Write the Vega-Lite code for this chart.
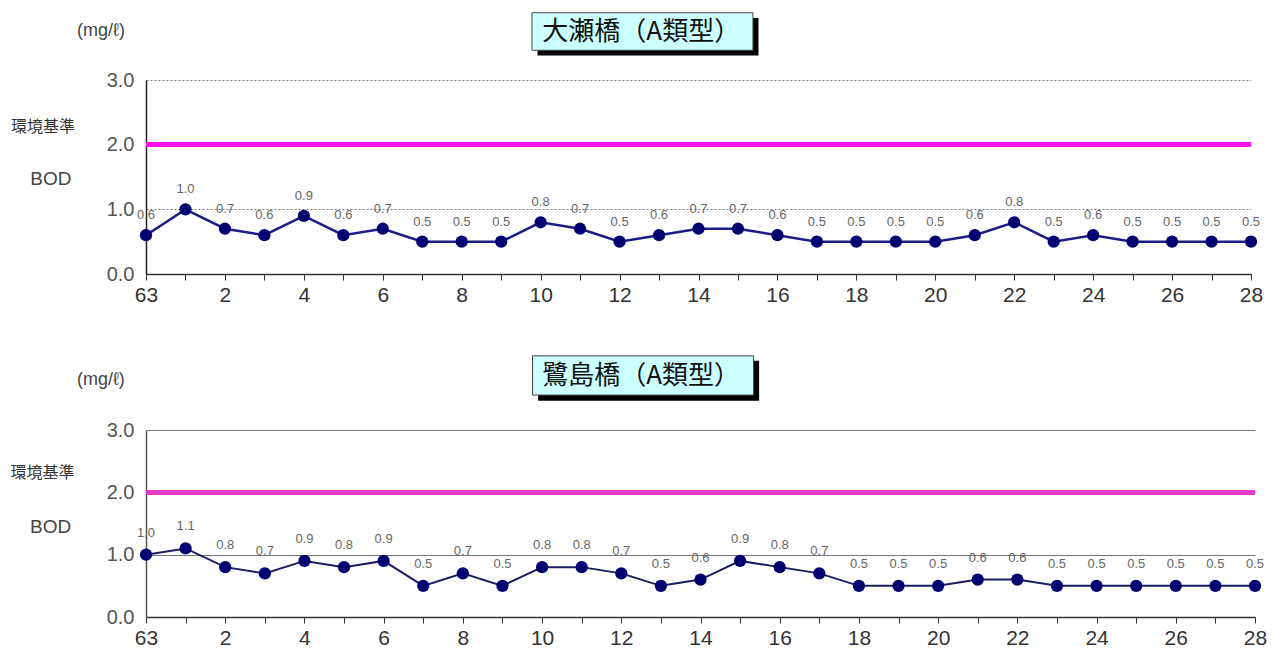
{
  "$schema": "https://vega.github.io/schema/vega-lite/v6.json",
  "padding": {"left": 10, "top": 12, "right": 10, "bottom": 3},
  "background": "white",
  "spacing": 50,
  "config": {
    "view": {"stroke": null},
    "axis": {"labelFont": "Liberation Sans", "titleFont": "Liberation Sans"}
  },
  "datasets": {
    "oose": [
      {"yr": 1988, "bod": 0.6}, {"yr": 1989, "bod": 1.0}, {"yr": 1990, "bod": 0.7}, {"yr": 1991, "bod": 0.6},
      {"yr": 1992, "bod": 0.9}, {"yr": 1993, "bod": 0.6}, {"yr": 1994, "bod": 0.7}, {"yr": 1995, "bod": 0.5},
      {"yr": 1996, "bod": 0.5}, {"yr": 1997, "bod": 0.5}, {"yr": 1998, "bod": 0.8}, {"yr": 1999, "bod": 0.7},
      {"yr": 2000, "bod": 0.5}, {"yr": 2001, "bod": 0.6}, {"yr": 2002, "bod": 0.7}, {"yr": 2003, "bod": 0.7},
      {"yr": 2004, "bod": 0.6}, {"yr": 2005, "bod": 0.5}, {"yr": 2006, "bod": 0.5}, {"yr": 2007, "bod": 0.5},
      {"yr": 2008, "bod": 0.5}, {"yr": 2009, "bod": 0.6}, {"yr": 2010, "bod": 0.8}, {"yr": 2011, "bod": 0.5},
      {"yr": 2012, "bod": 0.6}, {"yr": 2013, "bod": 0.5}, {"yr": 2014, "bod": 0.5}, {"yr": 2015, "bod": 0.5},
      {"yr": 2016, "bod": 0.5}
    ],
    "sagi": [
      {"yr": 1988, "bod": 1.0}, {"yr": 1989, "bod": 1.1}, {"yr": 1990, "bod": 0.8}, {"yr": 1991, "bod": 0.7},
      {"yr": 1992, "bod": 0.9}, {"yr": 1993, "bod": 0.8}, {"yr": 1994, "bod": 0.9}, {"yr": 1995, "bod": 0.5},
      {"yr": 1996, "bod": 0.7}, {"yr": 1997, "bod": 0.5}, {"yr": 1998, "bod": 0.8}, {"yr": 1999, "bod": 0.8},
      {"yr": 2000, "bod": 0.7}, {"yr": 2001, "bod": 0.5}, {"yr": 2002, "bod": 0.6}, {"yr": 2003, "bod": 0.9},
      {"yr": 2004, "bod": 0.8}, {"yr": 2005, "bod": 0.7}, {"yr": 2006, "bod": 0.5}, {"yr": 2007, "bod": 0.5},
      {"yr": 2008, "bod": 0.5}, {"yr": 2009, "bod": 0.6}, {"yr": 2010, "bod": 0.6}, {"yr": 2011, "bod": 0.5},
      {"yr": 2012, "bod": 0.5}, {"yr": 2013, "bod": 0.5}, {"yr": 2014, "bod": 0.5}, {"yr": 2015, "bod": 0.5},
      {"yr": 2016, "bod": 0.5}
    ]
  },
  "vconcat": [
    {
      "width": 1105,
      "height": 194,
      "encoding": {
        "x": {
          "field": "yr", "type": "quantitative",
          "scale": {"domain": [1988, 2016], "nice": false, "zero": false},
          "axis": {
            "title": null,
            "values": [1988,1989,1990,1991,1992,1993,1994,1995,1996,1997,1998,1999,2000,2001,2002,2003,2004,2005,2006,2007,2008,2009,2010,2011,2012,2013,2014,2015,2016],
            "labelExpr": "datum.value == 1988 ? '63' : ((datum.value - 1988) % 2 == 0 ? '' + (datum.value - 1988) : '')",
            "labelFontSize": 21, "labelColor": "#333", "labelPadding": 4,
            "tickSize": 6, "tickColor": "#333", "domainColor": "#333", "domainWidth": 1.5,
            "grid": false, "labelOverlap": false, "labelFlush": false
          }
        },
        "y": {
          "field": "bod", "type": "quantitative",
          "scale": {"domain": [0, 3], "nice": false},
          "axis": {
            "title": null, "values": [0, 1, 2, 3], "format": ".1f",
            "labelFontSize": 20, "labelColor": "#555", "labelPadding": 12,
            "ticks": false, "domainColor": "#222", "domainWidth": 1.5,
            "grid": true, "gridDash": [2, 2], "gridColor": "#777", "gridWidth": 1
          }
        }
      },
      "layer": [
        {
          "data": {"name": "oose"},
          "mark": {"type": "rule", "color": "#ff10f0", "strokeWidth": 4},
          "encoding": {"y": {"datum": 2}, "x": {"datum": 1988}, "x2": {"datum": 2016}}
        },
        {
          "data": {"name": "oose"},
          "mark": {"type": "line", "color": "#1c1c86", "strokeWidth": 2.5}
        },
        {
          "data": {"name": "oose"},
          "mark": {"type": "point", "filled": true, "color": "#000070", "size": 150, "opacity": 1}
        },
        {
          "data": {"name": "oose"},
          "mark": {"type": "text", "dy": -20, "fontSize": 13, "color": "#666", "font": "Liberation Sans"},
          "encoding": {"text": {"field": "bod", "format": ".1f"}}
        },
        {
          "data": {"name": "oose"},
          "transform": [{"filter": "datum.yr == 1988"}],
          "layer": [
            {
              "mark": {"type": "rect", "color": "#000", "clip": false},
              "encoding": {"x": {"datum": 1997.92}, "x2": {"datum": 2003.52}, "y": {"datum": 3.96}, "y2": {"datum": 3.38}}
            },
            {
              "mark": {"type": "rect", "fill": "#ccffff", "stroke": "#444", "strokeWidth": 1, "clip": false},
              "encoding": {"x": {"datum": 1997.78}, "x2": {"datum": 2003.38}, "y": {"datum": 4.04}, "y2": {"datum": 3.46}}
            },
            {
              "mark": {"type": "text", "font": "Noto Sans CJK JP", "fontSize": 26, "color": "#111", "baseline": "middle", "clip": false},
              "encoding": {"text": {"value": "大瀬橋（A類型）"}, "x": {"datum": 2000.55}, "y": {"datum": 3.75}}
            },
            {
              "mark": {"type": "text", "font": "Liberation Sans", "fontSize": 18, "color": "#444", "baseline": "middle", "clip": false},
              "encoding": {"text": {"value": "(mg/ℓ)"}, "x": {"datum": 1986.86}, "y": {"datum": 3.76}}
            },
            {
              "mark": {"type": "text", "font": "Noto Sans CJK JP", "fontSize": 16, "color": "#333", "baseline": "middle", "align": "left", "clip": false},
              "encoding": {"text": {"value": "環境基準"}, "x": {"datum": 1984.58}, "y": {"datum": 2.27}}
            },
            {
              "mark": {"type": "text", "font": "Liberation Sans", "fontSize": 19, "color": "#444", "baseline": "middle", "clip": false},
              "encoding": {"text": {"value": "BOD"}, "x": {"datum": 1985.59}, "y": {"datum": 1.47}}
            }
          ]
        }
      ]
    },
    {
      "width": 1109,
      "height": 187,
      "encoding": {
        "x": {
          "field": "yr", "type": "quantitative",
          "scale": {"domain": [1988, 2016], "nice": false, "zero": false},
          "axis": {
            "title": null,
            "values": [1988,1989,1990,1991,1992,1993,1994,1995,1996,1997,1998,1999,2000,2001,2002,2003,2004,2005,2006,2007,2008,2009,2010,2011,2012,2013,2014,2015,2016],
            "labelExpr": "datum.value == 1988 ? '63' : ((datum.value - 1988) % 2 == 0 ? '' + (datum.value - 1988) : '')",
            "labelFontSize": 21, "labelColor": "#333", "labelPadding": 4,
            "tickSize": 6, "tickColor": "#333", "domainColor": "#333", "domainWidth": 1.5,
            "grid": false, "labelOverlap": false, "labelFlush": false
          }
        },
        "y": {
          "field": "bod", "type": "quantitative",
          "scale": {"domain": [0, 3], "nice": false},
          "axis": {
            "title": null, "values": [0, 1, 2, 3], "format": ".1f",
            "labelFontSize": 20, "labelColor": "#555", "labelPadding": 12,
            "ticks": false, "domainColor": "#555", "domainWidth": 1.5,
            "grid": true, "gridColor": "#777", "gridWidth": 1
          }
        }
      },
      "layer": [
        {
          "data": {"name": "sagi"},
          "mark": {"type": "rule", "color": "#e83cc8", "strokeWidth": 4},
          "encoding": {"y": {"datum": 2}, "x": {"datum": 1988}, "x2": {"datum": 2016}}
        },
        {
          "data": {"name": "sagi"},
          "mark": {"type": "line", "color": "#1c1c60", "strokeWidth": 2}
        },
        {
          "data": {"name": "sagi"},
          "mark": {"type": "point", "filled": true, "color": "#000070", "size": 150, "opacity": 1}
        },
        {
          "data": {"name": "sagi"},
          "mark": {"type": "text", "dy": -22, "fontSize": 13, "color": "#666", "font": "Liberation Sans"},
          "encoding": {"text": {"field": "bod", "format": ".1f"}}
        },
        {
          "data": {"name": "sagi"},
          "transform": [{"filter": "datum.yr == 1988"}],
          "layer": [
            {
              "mark": {"type": "rect", "color": "#000", "clip": false},
              "encoding": {"x": {"datum": 1997.9}, "x2": {"datum": 2003.48}, "y": {"datum": 4.11}, "y2": {"datum": 3.47}}
            },
            {
              "mark": {"type": "rect", "fill": "#ccffff", "stroke": "#444", "strokeWidth": 1, "clip": false},
              "encoding": {"x": {"datum": 1997.76}, "x2": {"datum": 2003.34}, "y": {"datum": 4.19}, "y2": {"datum": 3.56}}
            },
            {
              "mark": {"type": "text", "font": "Noto Sans CJK JP", "fontSize": 26, "color": "#111", "baseline": "middle", "clip": false},
              "encoding": {"text": {"value": "鷺島橋（A類型）"}, "x": {"datum": 2000.5}, "y": {"datum": 3.87}}
            },
            {
              "mark": {"type": "text", "font": "Liberation Sans", "fontSize": 18, "color": "#444", "baseline": "middle", "clip": false},
              "encoding": {"text": {"value": "(mg/ℓ)"}, "x": {"datum": 1986.86}, "y": {"datum": 3.81}}
            },
            {
              "mark": {"type": "text", "font": "Noto Sans CJK JP", "fontSize": 16, "color": "#333", "baseline": "middle", "align": "left", "clip": false},
              "encoding": {"text": {"value": "環境基準"}, "x": {"datum": 1984.58}, "y": {"datum": 2.31}}
            },
            {
              "mark": {"type": "text", "font": "Liberation Sans", "fontSize": 19, "color": "#444", "baseline": "middle", "clip": false},
              "encoding": {"text": {"value": "BOD"}, "x": {"datum": 1985.59}, "y": {"datum": 1.44}}
            }
          ]
        }
      ]
    }
  ]
}
